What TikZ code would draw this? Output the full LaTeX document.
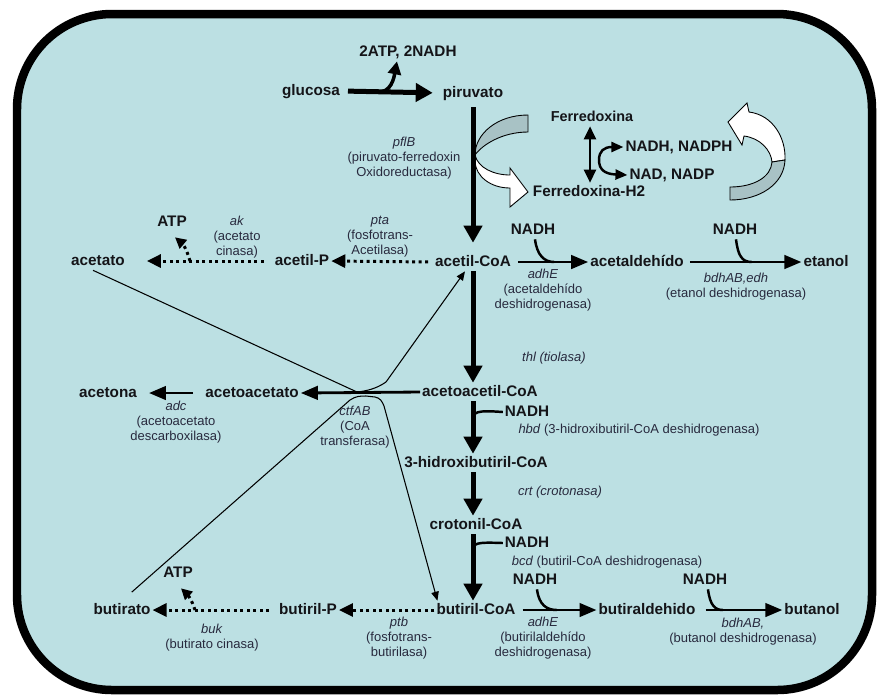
\documentclass[tikz,border=0pt]{standalone}
\usepackage{fontspec}
\setmainfont{Liberation Sans}
\usetikzlibrary{arrows.meta,calc}

\definecolor{cellblue}{RGB}{188,224,227}
\definecolor{ribbongray}{RGB}{168,194,197}
\definecolor{enzgray}{RGB}{40,42,62}
\definecolor{metblack}{RGB}{20,20,24}

\tikzset{
  met/.style={font=\bfseries\fontsize{8.7}{10}\selectfont, text=metblack,
    text height=6.4pt, text depth=1.8pt, inner sep=1pt},
  enz/.style={font=\fontsize{7.4}{8.6}\selectfont, align=center, inner sep=0pt, text=enzgray},
  chain/.style={line width=0.1cm, -{Triangle[length=0.34cm,width=0.36cm]}},
  prodarr/.style={line width=1.6pt, -{Triangle[length=0.34cm,width=0.27cm]}},
  dotarr/.style={line width=1.7pt, dotted, -{Triangle[length=0.28cm,width=0.26cm]}},
  atpdot/.style={line width=1.7pt, dotted, -{Triangle[length=0.22cm,width=0.22cm]}},
  nadhline/.style={line width=1.4pt},
  thinarr/.style={line width=0.6pt, -{Triangle[length=0.18cm,width=0.15cm]}},
  ribbon/.style={draw=black, line width=0.5pt}
}

\begin{document}
\begin{tikzpicture}[x=0.02cm, y=-0.02cm]
  \useasboundingbox (0,0) rectangle (878,698);

  % cell
  \draw[line width=0.17cm, fill=cellblue, rounded corners=1.9cm] (17,14) rectangle (872,690);

  % metabolites
  \node[met] (glucosa) at (311,91) {glucosa};
  \node[met] (piruvato) at (473,93) {piruvato};
  \node[met] (atpA) at (408,52) {2ATP, 2NADH};
  \node[met, font=\bfseries\fontsize{8.2}{10}\selectfont] (ferredoxina) at (592,117) {Ferredoxina};
  \node[met] (ferredoxinaH) at (589,192) {Ferredoxina-H2};
  \node[met] (nadph) at (679,147) {NADH, NADPH};
  \node[met] (nadp) at (672,175) {NAD, NADP};

  \node[met] (acetato) at (98,261) {acetato};
  \node[met] (acetilP) at (302,261) {acetil-P};
  \node[met] (acetilCoA) at (473,262) {acetil-CoA};
  \node[met] (acetaldehido) at (637,262) {acetaldehído};
  \node[met] (etanol) at (826,262) {etanol};
  \node[met] (atpB) at (172,222) {ATP};
  \node[met] (nadhA) at (533,230) {NADH};
  \node[met] (nadhD) at (735,230) {NADH};

  \node[met] (acetona) at (108,393) {acetona};
  \node[met] (acetoacetato) at (252,393) {acetoacetato};
  \node[met] (acetoacetilCoA) at (480,392) {acetoacetil-CoA};
  \node[met] (nadhB) at (527,412) {NADH};
  \node[met] (hidroxiCoA) at (476,463) {3-hidroxibutiril-CoA};
  \node[met] (crotonilCoA) at (476,525) {crotonil-CoA};
  \node[met] (nadhC) at (527,543) {NADH};

  \node[met] (atpC) at (178,573) {ATP};
  \node[met] (nadhE) at (535,580) {NADH};
  \node[met] (nadhF) at (705,580) {NADH};
  \node[met] (butirato) at (122,610) {butirato};
  \node[met] (butirilP) at (308,610) {butiril-P};
  \node[met] (butirilCoA) at (476,610) {butiril-CoA};
  \node[met] (butiraldehido) at (647,610) {butiraldehido};
  \node[met] (butanol) at (812,610) {butanol};

  % enzymes
  \node[enz] (pflB) at (404,158) {\textit{pflB}\\(piruvato-ferredoxin\\Oxidoreductasa)};
  \node[enz] (ak) at (237,237) {\textit{ak}\\(acetato\\cinasa)};
  \node[enz] (pta) at (380,237) {\textit{pta}\\(fosfotrans-\\Acetilasa)};
  \node[enz] (adhEa) at (543,290) {\textit{adhE}\\(acetaldehído\\deshidrogenasa)};
  \node[enz] (bdhA) at (736,287) {\textit{bdhAB,edh}\\(etanol deshidrogenasa)};
  \node[enz] (thl) at (554,358) {\textit{thl (tiolasa)}};
  \node[enz] (adc) at (176,422) {\textit{adc}\\(acetoacetato\\descarboxilasa)};
  \node[enz] (ctfAB) at (355,427) {\textit{ctfAB}\\(CoA\\transferasa)};
  \node[enz] (hbd) at (639,430) {\textit{hbd} (3-hidroxibutiril-CoA deshidrogenasa)};
  \node[enz] (crt) at (560,492) {\textit{crt (crotonasa)}};
  \node[enz] (bcd) at (607,562) {\textit{bcd} (butiril-CoA deshidrogenasa)};
  \node[enz] (adhEb) at (543,638) {\textit{adhE}\\(butirilaldehído\\deshidrogenasa)};
  \node[enz] (bdhB) at (743,632) {\textit{bdhAB,}\\(butanol deshidrogenasa)};
  \node[enz] (ptb) at (399,638) {\textit{ptb}\\(fosfotrans-\\butirilasa)};
  \node[enz] (buk) at (212,638) {\textit{buk}\\(butirato cinasa)};

  % ferredoxin ribbon arrows
  \filldraw[ribbon, fill=ribbongray] (528,115) .. controls (497,115) and (475,134) .. (475,155)
    .. controls (482,145) and (502,132) .. (528,132) -- cycle;
  \filldraw[ribbon, fill=white] (475,155) .. controls (478,168) and (494,175) .. (510,175)
    -- (510,168) -- (528,192) -- (510,207) -- (510,188)
    .. controls (490,188) and (476,176) .. (475,162) -- cycle;
  \filldraw[ribbon, fill=white] (749,112) .. controls (773,115) and (786,138) .. (785,160)
    -- (772,162) .. controls (771,150) and (760,138) .. (744,136)
    -- (742,145) -- (728,122) -- (747,103) -- cycle;
  \filldraw[ribbon, fill=ribbongray] (785,160) .. controls (784,184) and (760,200) .. (730,200)
    -- (730,187) .. controls (754,187) and (771,177) .. (772,162) -- cycle;

  % glycolysis
  \coordinate (glufork) at ($(glucosa.east)!0.4!(piruvato.west)$);
  \draw[chain, shorten <=0.12cm, shorten >=0.16cm] (glucosa.east) -- (piruvato.west);
  \draw[line width=2pt, -{Triangle[length=0.26cm,width=0.26cm]}]
    (glufork) .. controls +(12,-2) and +(-2,10) .. ([xshift=-0.22cm]atpA.south);

  % ferredoxin exchange
  \coordinate (cback) at (599,160);
  \draw[line width=1.4pt, {Triangle[length=0.26cm,width=0.24cm]}-{Triangle[length=0.26cm,width=0.24cm]}]
    ([xshift=-0.04cm]ferredoxina.south) -- ([xshift=-0.04cm]ferredoxina.south |- ferredoxinaH.north);
  \draw[line width=1.4pt, -{Triangle[length=0.24cm,width=0.2cm]}]
    (cback) .. controls (599,151) and (604,147) .. (nadph.west);
  \draw[line width=1.4pt, -{Triangle[length=0.24cm,width=0.2cm]}]
    (cback) .. controls (599,169) and (604,174) .. (nadp.west);

  % main chain
  \draw[chain, shorten <=0.1cm, shorten >=0.2cm] (piruvato.south) -- (acetilCoA.north);
  \draw[chain] (acetilCoA.south) -- (acetilCoA |- acetoacetilCoA.north);
  \draw[chain] (acetilCoA |- acetoacetilCoA.south) -- (acetilCoA |- hidroxiCoA.north);
  \draw[chain] (acetilCoA |- hidroxiCoA.south) -- (acetilCoA |- crotonilCoA.north);
  \draw[chain] (acetilCoA |- crotonilCoA.south) -- (acetilCoA |- butirilCoA.north);

  % NADH hooks on the chain
  \coordinate (hookB) at (473,420);
  \coordinate (hookC) at (473,551);
  \draw[nadhline] (hookB) .. controls (473,412) and (476,410) .. (nadhB.west);
  \draw[nadhline] (hookC) .. controls (473,543) and (476,542) .. (nadhC.west);

  % alcohol branches
  \draw[prodarr, shorten <=0.1cm] (acetilCoA.east) -- (acetaldehido.west);
  \draw[prodarr, shorten <=0.08cm] (acetaldehido.east) -- (etanol.west);
  \draw[prodarr, shorten <=0.1cm] (butirilCoA.east) -- (butiraldehido.west);
  \draw[prodarr, shorten <=0.16cm] (butiraldehido.east) -- (butanol.west);
  \coordinate (joinA) at ($(acetilCoA.east)!0.55!(acetaldehido.west)$);
  \coordinate (joinD) at ($(acetaldehido.east)!0.57!(etanol.west)$);
  \coordinate (joinE) at ($(butirilCoA.east)!0.5!(butiraldehido.west)$);
  \coordinate (joinF) at ($(butiraldehido.east)!0.3!(butanol.west)$);
  \draw[nadhline] ([xshift=0.04cm]nadhA.south) .. controls +(2,16) and +(-10,0) .. (joinA);
  \draw[nadhline] ([xshift=0.02cm]nadhD.south) .. controls +(2,16) and +(-10,0) .. (joinD);
  \draw[nadhline] ([xshift=0.04cm]nadhE.south) .. controls +(2,16) and +(-10,0) .. (joinE);
  \draw[nadhline] ([xshift=0.06cm]nadhF.south) .. controls +(2,16) and +(-8,0) .. (joinF);

  % acids and acetone
  \draw[dotarr, shorten <=0.1cm] (acetilCoA.west) -- (acetilP.east);
  \draw[dotarr, shorten <=0.18cm, shorten >=0.4cm] (acetilP.west) -- (acetato.east);
  \coordinate (forkA) at (190,261);
  \draw[atpdot] (forkA) .. controls (187,250) and (183,244) .. ([xshift=0.06cm, yshift=-0.12cm]atpB.south);
  \draw[dotarr] (butirilCoA.west) -- (butirilP.east);
  \draw[dotarr, shorten <=0.16cm] (butirilP.west) -- (butirato.east);
  \coordinate (forkC) at (195,610);
  \draw[atpdot] (forkC) .. controls (192,600) and (187,594) .. ([xshift=0.06cm, yshift=-0.12cm]atpC.south);
  \draw[prodarr] (acetoacetilCoA.west) -- (acetoacetato.east);
  \draw[prodarr, shorten <=0.2cm, shorten >=0.2cm] (acetoacetato.west) -- (acetona.east);

  % CoA transferase
  \draw[thinarr] ([xshift=-0.1cm]acetato.south) -- (357,392)
    .. controls (366,391) and (376,389) .. (386,382) -- ([xshift=-0.16cm]acetilCoA.south);
  \draw[thinarr, shorten <=0.26cm] (butirato.north) -- (350,400)
    .. controls (356,396) and (360,396) .. (366,396) -- (375,397)
    .. controls (380,398) and (382,401) .. (384,406) -- ([xshift=0.06cm]butirilCoA.north west);
\end{tikzpicture}
\end{document}
